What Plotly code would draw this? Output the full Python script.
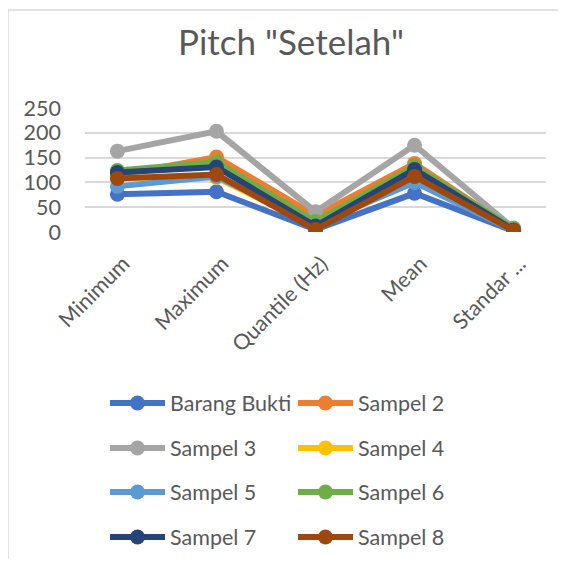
import plotly.graph_objects as go

categories = ["Minimum", "Maximum", "Quantile (Hz)", "Mean", "Standar ..."]
barang_bukti = [76, 81, 5, 78, 2]
sampel_2 = [115, 151, 33, 138, 5]
sampel_3 = [163, 203, 41, 175, 8]
sampel_4 = [110, 110, 12, 118, 3]
sampel_5 = [92, 112, 15, 100, 3]
sampel_6 = [124, 141, 21, 132, 7]
sampel_7 = [120, 131, 12, 126, 4]
sampel_8 = [108, 116, 5, 112, 3]

names = ["Barang Bukti", "Sampel 2", "Sampel 3", "Sampel 4",
         "Sampel 5", "Sampel 6", "Sampel 7", "Sampel 8"]
series = [barang_bukti, sampel_2, sampel_3, sampel_4,
          sampel_5, sampel_6, sampel_7, sampel_8]
colors = ["#4472C4", "#ED7D31", "#A5A5A5", "#FFC000",
          "#5B9BD5", "#70AD47", "#264478", "#9E480E"]

# page has an 8px body margin; figure sized to fit the window exactly
OFF = 8
W, H = 566 - 2 * OFF, 567 - 2 * OFF
# plot area in screen pixels: x 85..546, y 108..232
L, R, T, B = 85 - OFF, W - (546 - OFF), 108 - OFF, H - (232 - OFF)
pw, ph = W - L - R, H - T - B

def sx(x):  # screen px -> paper x
    return (x - OFF - L) / pw

def sy(y):  # screen px -> paper y
    return (H - B - (y - OFF)) / ph

FONT = "Lato"
TXT = "#595959"

fig = go.Figure()
legend_names = ["legend", "legend2", "legend3", "legend4"]
for i, (n, v, c) in enumerate(zip(names, series, colors)):
    fig.add_trace(go.Scatter(
        x=categories, y=v, name=n, mode="lines+markers",
        line=dict(color=c, width=6),
        marker=dict(color=c, size=15),
        legend=legend_names[i // 2],
    ))

row_y = [403, 448, 492, 537]
legend_common = dict(
    orientation="h", xanchor="left", yanchor="middle",
    xref="container", yref="container",
    font=dict(family=FONT, size=21.5, color=TXT),
    itemwidth=55, entrywidth=118, entrywidthmode="pixels",
    bgcolor="rgba(0,0,0,0)", borderwidth=0, traceorder="normal",
)
layout_legends = {}
for k, ln in enumerate(legend_names):
    layout_legends[ln] = dict(legend_common, x=(105 - OFF) / W,
                              y=1 - (row_y[k] - OFF) / H)

fig.update_layout(
    width=W, height=H,
    margin=dict(l=L, r=R, t=T, b=B, autoexpand=False),
    paper_bgcolor="white", plot_bgcolor="white",
    title=dict(text='Pitch "Setelah"', x=(291 - OFF) / W, xref="container",
               xanchor="center", y=1 - (43 - OFF) / H, yref="container",
               yanchor="middle",
               font=dict(family=FONT, size=35, color=TXT)),
    xaxis=dict(type="category", tickangle=-45, showgrid=False, showline=False,
               ticks="", automargin=False, ticklabelstandoff=14,
               ticklabelshift=6,
               tickfont=dict(family=FONT, size=21.5, color=TXT)),
    yaxis=dict(range=[0, 250], dtick=50, showgrid=True, gridcolor="#D9D9D9",
               gridwidth=1.5, zeroline=False, showline=False, ticks="",
               ticklabelstandoff=23, automargin=False,
               tickfont=dict(family=FONT, size=21.5, color=TXT)),
    showlegend=True,
    **layout_legends,
)

# chart-area border (left and top edges visible in the reference)
border = dict(color="#D9D9D9", width=1.5)
fig.add_shape(type="line", xref="paper", yref="paper",
              x0=sx(8), x1=sx(8), y0=sy(700), y1=sy(10), line=border, layer="below")
fig.add_shape(type="line", xref="paper", yref="paper",
              x0=sx(8), x1=sx(700), y0=sy(10), y1=sy(10), line=border, layer="below")

fig.write_html("out.html")
